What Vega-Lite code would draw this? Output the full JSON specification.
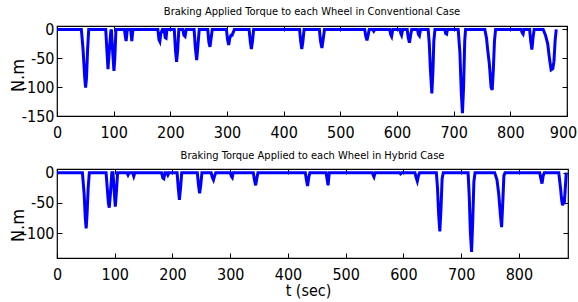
{
  "$schema": "https://vega.github.io/schema/vega-lite/v6.json",
  "padding": {"left": 8, "top": 5, "right": 0, "bottom": 0},
  "background": "white",
  "config": {
    "view": {"stroke": "black", "strokeWidth": 1.2},
    "font": "DejaVu Sans Condensed, Liberation Sans, sans-serif",
    "axis": {
      "domain": false, "grid": false, "tickSize": -5, "tickColor": "black", "tickWidth": 1,
      "labelFont": "DejaVu Sans Condensed, Liberation Sans, sans-serif", "labelFontSize": 16, "labelColor": "black", "labelPadding": 8,
      "labelFlush": false, "labelOverlap": false, "labelExpr": "toString(datum.value)",
      "titleFont": "DejaVu Sans Condensed, Liberation Sans, sans-serif", "titleFontSize": 16, "titleFontWeight": "normal", "titleColor": "black"
    },
    "axisBottom": {"labelPadding": 13},
    "title": {"font": "DejaVu Sans Condensed, Liberation Sans, sans-serif", "fontSize": 11, "fontWeight": "normal", "color": "black", "anchor": "middle", "frame": "group", "offset": 4}
  },
  "datasets": {
    "conv": [
      {"t":0,"v":0},{"t":43,"v":0},{"t":46,"v":-35},{"t":49,"v":-85},{"t":50.5,"v":-101},{"t":52,"v":-85},{"t":54,"v":-35},{"t":56,"v":0},
      {"t":86,"v":0},{"t":88,"v":-35},{"t":90,"v":-69},{"t":92,"v":-40},{"t":95,"v":-3},{"t":96,"v":0},{"t":98,"v":-35},{"t":100.5,"v":-72},{"t":102,"v":-50},{"t":104,"v":0},
      {"t":119,"v":0},{"t":121,"v":-15},{"t":122,"v":-20},{"t":124,"v":0},{"t":130,"v":0},{"t":132,"v":-20},{"t":134,"v":0},
      {"t":178,"v":0},{"t":180,"v":-18},{"t":181.5,"v":-21},{"t":183,"v":-8},{"t":186,"v":0},{"t":189,"v":0},{"t":191,"v":-14},{"t":192.5,"v":-15},{"t":194,"v":0},
      {"t":207,"v":0},{"t":209,"v":-35},{"t":211,"v":-56},{"t":213,"v":-35},{"t":215,"v":0},{"t":222,"v":0},{"t":224,"v":-10},{"t":226,"v":-12},{"t":228,"v":0},
      {"t":242,"v":0},{"t":244,"v":-30},{"t":246.5,"v":-53},{"t":248.5,"v":-30},{"t":251,"v":0},{"t":266,"v":0},{"t":268,"v":-22},{"t":270,"v":-30},{"t":272,"v":-15},{"t":274,"v":0},
      {"t":299,"v":0},{"t":301,"v":-18},{"t":303,"v":-27},{"t":305,"v":-15},{"t":307,"v":-10},{"t":309,"v":-10},{"t":311,"v":-5},{"t":313,"v":0},
      {"t":339,"v":0},{"t":341,"v":-20},{"t":343,"v":-34},{"t":345,"v":-20},{"t":347,"v":0},
      {"t":428,"v":0},{"t":430,"v":-20},{"t":432,"v":-34},{"t":434,"v":-20},{"t":436,"v":0},{"t":463,"v":0},{"t":465,"v":-20},{"t":467.5,"v":-32},{"t":470,"v":-15},{"t":472,"v":0},
      {"t":543,"v":0},{"t":545,"v":-12},{"t":547,"v":-19},{"t":549,"v":-10},{"t":551,"v":0},{"t":557,"v":0},{"t":559,"v":-3},{"t":561,"v":0},
      {"t":587,"v":0},{"t":589,"v":-9},{"t":590.5,"v":-12},{"t":592.5,"v":0},{"t":605,"v":0},{"t":607,"v":-8},{"t":608,"v":-10},{"t":610,"v":0},
      {"t":618,"v":0},{"t":620,"v":-15},{"t":622,"v":-23},{"t":624,"v":-10},{"t":626,"v":0},{"t":636,"v":0},{"t":638,"v":-9},{"t":639.5,"v":-11},{"t":641.5,"v":0},
      {"t":655,"v":0},{"t":657,"v":-25},{"t":659,"v":-70},{"t":661.5,"v":-111},{"t":663.5,"v":-70},{"t":665,"v":-20},{"t":667,"v":0},
      {"t":684,"v":0},{"t":686,"v":-7},{"t":687.5,"v":-8},{"t":689,"v":0},
      {"t":708,"v":0},{"t":711,"v":-40},{"t":713.5,"v":-110},{"t":715.5,"v":-145},{"t":717.5,"v":-100},{"t":719.5,"v":-20},{"t":721,"v":0},
      {"t":755,"v":0},{"t":758,"v":-15},{"t":760,"v":-35},{"t":763,"v":-60},{"t":766,"v":-100},{"t":768,"v":-105},{"t":770,"v":-70},{"t":772,"v":-20},{"t":774,"v":0},
      {"t":819,"v":0},{"t":821,"v":-6},{"t":822.5,"v":-8},{"t":824,"v":0},{"t":834,"v":0},{"t":836,"v":-20},{"t":838,"v":-35},{"t":840,"v":-15},{"t":842,"v":0},
      {"t":858,"v":0},{"t":862,"v":-10},{"t":866,"v":-25},{"t":869,"v":-50},{"t":872,"v":-70},{"t":875,"v":-68},{"t":877,"v":-55},{"t":879,"v":-20},{"t":881,"v":0}
    ],
    "hyb": [
      {"t":0,"v":0},{"t":44,"v":0},{"t":47,"v":-35},{"t":49,"v":-75},{"t":50.5,"v":-92},{"t":52,"v":-70},{"t":54,"v":-25},{"t":56,"v":0},
      {"t":85,"v":0},{"t":87,"v":-25},{"t":89,"v":-50},{"t":90.5,"v":-58},{"t":92.5,"v":-35},{"t":95,"v":0},{"t":97,"v":0},{"t":99,"v":-30},{"t":101,"v":-56},{"t":103,"v":-30},{"t":105,"v":0},
      {"t":121,"v":0},{"t":123,"v":-4},{"t":125,"v":0},{"t":131,"v":0},{"t":133,"v":-6},{"t":135,"v":0},
      {"t":181,"v":0},{"t":183.5,"v":-9},{"t":185,"v":-10},{"t":187,"v":0},{"t":190,"v":0},{"t":192,"v":-4},{"t":194,"v":0},
      {"t":208,"v":0},{"t":210,"v":-25},{"t":212,"v":-45},{"t":214,"v":-25},{"t":216,"v":0},
      {"t":243,"v":0},{"t":245,"v":-20},{"t":247,"v":-34},{"t":249,"v":-20},{"t":251,"v":0},
      {"t":267,"v":0},{"t":269,"v":-8},{"t":271,"v":-12},{"t":273,"v":-5},{"t":275,"v":0},
      {"t":300,"v":0},{"t":302,"v":-6},{"t":303.5,"v":-8},{"t":305,"v":0},
      {"t":340,"v":0},{"t":342,"v":-12},{"t":344,"v":-21},{"t":346,"v":-10},{"t":348,"v":0},
      {"t":430,"v":0},{"t":432,"v":-12},{"t":434,"v":-22},{"t":436,"v":-8},{"t":438,"v":0},
      {"t":466,"v":0},{"t":468,"v":-12},{"t":469.5,"v":-21},{"t":471.5,"v":0},
      {"t":546,"v":0},{"t":548,"v":-5},{"t":549,"v":-7},{"t":551,"v":0},{"t":593,"v":0},{"t":595,"v":-2},{"t":597,"v":0},
      {"t":620,"v":0},{"t":622,"v":-8},{"t":624,"v":-14},{"t":626,"v":-5},{"t":628,"v":0},
      {"t":657,"v":0},{"t":659,"v":-25},{"t":661,"v":-70},{"t":663,"v":-97},{"t":665,"v":-60},{"t":667,"v":-10},{"t":669,"v":0},
      {"t":712,"v":0},{"t":714,"v":-40},{"t":716,"v":-100},{"t":718,"v":-131},{"t":720,"v":-80},{"t":722,"v":-15},{"t":724,"v":0},
      {"t":758,"v":0},{"t":762,"v":-12},{"t":765,"v":-35},{"t":768,"v":-70},{"t":770,"v":-90},{"t":772,"v":-50},{"t":774,"v":-5},{"t":776,"v":0},
      {"t":836,"v":0},{"t":838,"v":-10},{"t":840,"v":-18},{"t":842,"v":-5},{"t":844,"v":0},
      {"t":869,"v":0},{"t":872,"v":-25},{"t":874,"v":-45},{"t":875.5,"v":-54},{"t":877,"v":-48},{"t":878.5,"v":-52},{"t":880,"v":-30},{"t":882,"v":0}
    ]
  },
  "spacing": 53,
  "bounds": "flush",
  "vconcat": [
    {
      "width": 510, "height": 90,
      "title": {"text": "Braking Applied Torque to each Wheel in Conventional Case"},
      "data": {"name": "conv"},
      "layer": [
        {
          "mark": {"type": "line", "color": "#0000ff", "strokeWidth": 3, "clip": true},
          "encoding": {
            "x": {"field": "t", "type": "quantitative", "scale": {"domain": [0, 900], "nice": false, "zero": false},
                  "axis": {"orient": "bottom", "values": [0,100,200,300,400,500,600,700,800,900], "title": null,
                           "labelOffset": {"condition": {"test": "datum.value === 900", "value": -4}, "value": 0}}},
            "y": {"field": "v", "type": "quantitative", "scale": {"domain": [-150, 6], "nice": false},
                  "axis": {"orient": "left", "values": [0,-50,-100,-150], "title": "N.m", "titleFontSize": 18, "titleX": -39, "titleY": 49, "titleAlign": "center", "titleBaseline": "middle", "titleAngle": -90}}
          }
        },
        {
          "mark": {"type": "line", "opacity": 0},
          "encoding": {
            "x": {"field": "t", "type": "quantitative", "axis": {"orient": "top", "values": [0,100,200,300,400,500,600,700,800,900], "labels": false, "title": null}},
            "y": {"field": "v", "type": "quantitative", "axis": {"orient": "right", "values": [0,-50,-100,-150], "labels": false, "title": null}}
          }
        }
      ],
      "resolve": {"axis": {"x": "independent", "y": "independent"}}
    },
    {
      "width": 511, "height": 89,
      "title": {"text": "Braking Torque Applied to each Wheel in Hybrid Case"},
      "data": {"name": "hyb"},
      "layer": [
        {
          "mark": {"type": "line", "color": "#0000ff", "strokeWidth": 3, "clip": true},
          "encoding": {
            "x": {"field": "t", "type": "quantitative", "scale": {"domain": [0, 885], "nice": false, "zero": false},
                  "axis": {"orient": "bottom", "values": [0,100,200,300,400,500,600,700,800], "title": "t (sec)", "titleX": 251, "titleY": 37, "titleBaseline": "alphabetic", "titleAlign": "center"}},
            "y": {"field": "v", "type": "quantitative", "scale": {"domain": [-141, 6], "nice": false},
                  "axis": {"orient": "left", "values": [0,-50,-100], "title": "N.m", "titleFontSize": 18, "titleX": -39, "titleY": 56, "titleAlign": "center", "titleBaseline": "middle", "titleAngle": -90}}
          }
        },
        {
          "mark": {"type": "line", "opacity": 0},
          "encoding": {
            "x": {"field": "t", "type": "quantitative", "axis": {"orient": "top", "values": [0,100,200,300,400,500,600,700,800], "labels": false, "title": null}},
            "y": {"field": "v", "type": "quantitative", "axis": {"orient": "right", "values": [0,-50,-100], "labels": false, "title": null}}
          }
        }
      ],
      "resolve": {"axis": {"x": "independent", "y": "independent"}}
    }
  ]
}
